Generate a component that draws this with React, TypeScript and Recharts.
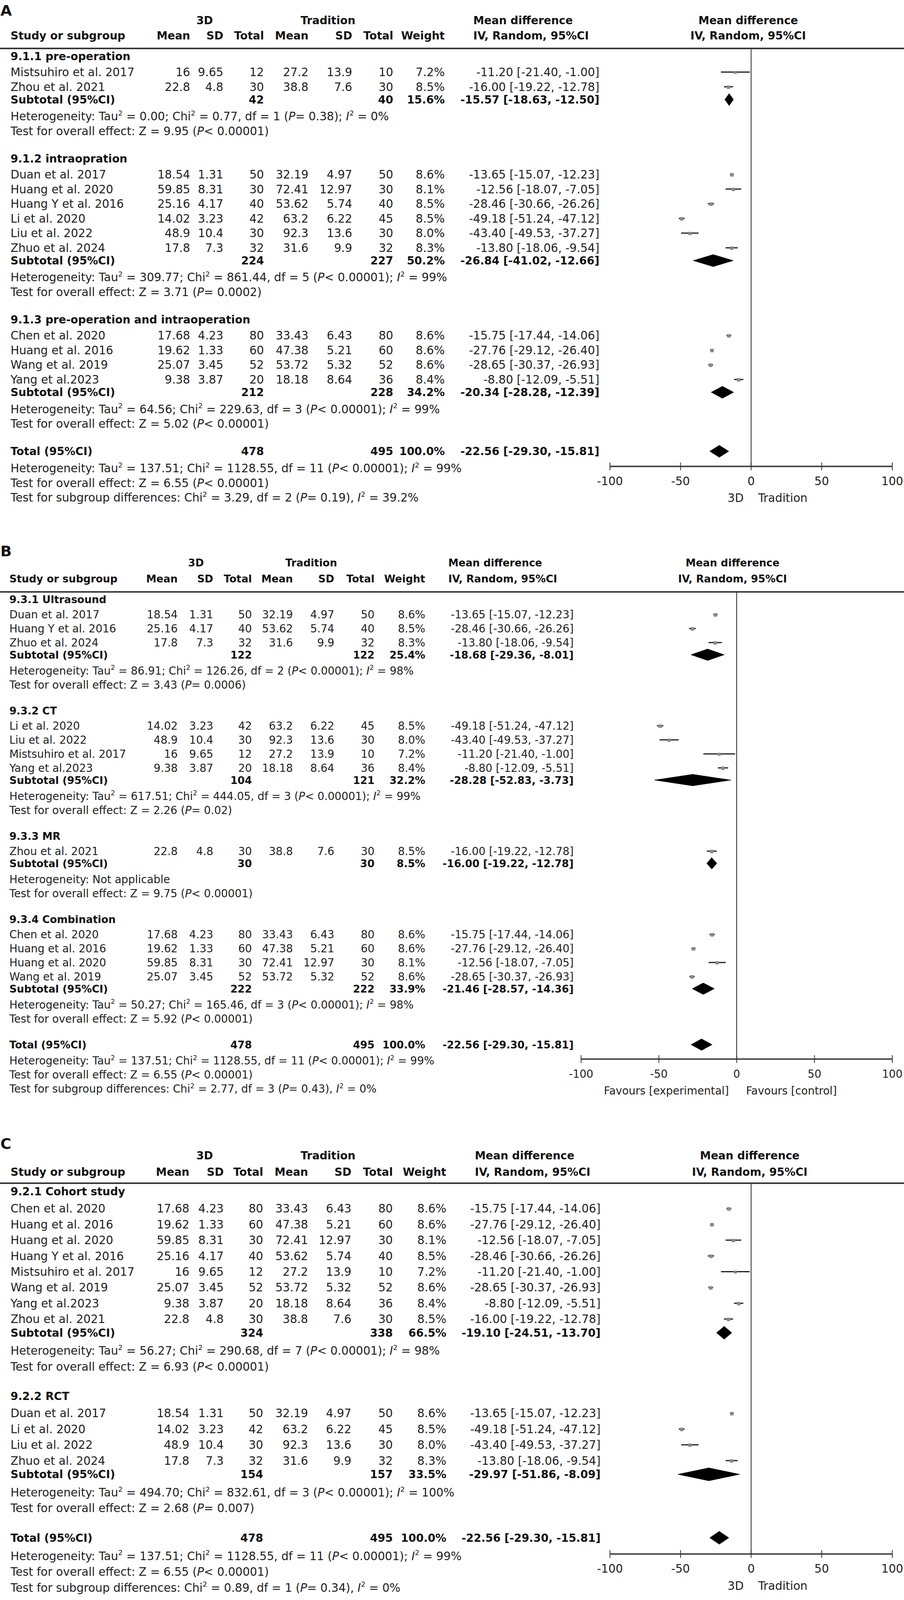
import React from 'react';
import { ScatterChart, Scatter, XAxis, YAxis, ReferenceLine } from 'recharts';

const FONT = "'DejaVu Sans', Verdana, sans-serif";
const W = 2315;
const H_REF = 4353;
// the photographed viewport is shorter than the reference; fit the whole figure vertically
const VS = 4090 / H_REF;

// ---------- study data ----------
const studyNames = [
  'Mistsuhiro et al. 2017', 'Zhou et al. 2021', 'Duan et al. 2017', 'Huang et al. 2020',
  'Huang Y et al. 2016', 'Li et al. 2020', 'Liu et al. 2022', 'Zhuo et al. 2024',
  'Chen et al. 2020', 'Huang et al. 2016', 'Wang et al. 2019', 'Yang et al.2023',
];
const mean3D = [16, 22.8, 18.54, 59.85, 25.16, 14.02, 48.9, 17.8, 17.68, 19.62, 25.07, 9.38];
const sd3D = [9.65, 4.8, 1.31, 8.31, 4.17, 3.23, 10.4, 7.3, 4.23, 1.33, 3.45, 3.87];
const total3D = [12, 30, 50, 30, 40, 42, 30, 32, 80, 60, 52, 20];
const meanTrad = [27.2, 38.8, 32.19, 72.41, 53.62, 63.2, 92.3, 31.6, 33.43, 47.38, 53.72, 18.18];
const sdTrad = [13.9, 7.6, 4.97, 12.97, 5.74, 6.22, 13.6, 9.9, 6.43, 5.21, 5.32, 8.64];
const totalTrad = [10, 30, 50, 30, 40, 45, 30, 32, 80, 60, 52, 36];
const weightPct = [7.2, 8.5, 8.6, 8.1, 8.5, 8.5, 8.0, 8.3, 8.6, 8.6, 8.6, 8.4];
const meanDiff = [-11.2, -16.0, -13.65, -12.56, -28.46, -49.18, -43.4, -13.8, -15.75, -27.76, -28.65, -8.8];
const ciLow = [-21.4, -19.22, -15.07, -18.07, -30.66, -51.24, -49.53, -18.06, -17.44, -29.12, -30.37, -12.09];
const ciHigh = [-1.0, -12.78, -12.23, -7.05, -26.26, -47.12, -37.27, -9.54, -14.06, -26.4, -26.93, -5.51];

const xTicks = [-100, -50, 0, 50, 100];

interface Subgroup {
  title: string; members: string[]; n3D: number; nTrad: number; weight: number;
  md: number; lo: number; hi: number; het: string; effect: string;
}

const subgroupsA: Subgroup[] = [
  { title: '9.1.1 pre-operation', members: ['Mistsuhiro et al. 2017', 'Zhou et al. 2021'],
    n3D: 42, nTrad: 40, weight: 15.6, md: -15.57, lo: -18.63, hi: -12.5,
    het: 'Heterogeneity: Tau^ = 0.00; Chi^ = 0.77, df = 1 (*P*= 0.38); *I*^ = 0%',
    effect: 'Test for overall effect: Z = 9.95 (*P*< 0.00001)' },
  { title: '9.1.2 intraopration', members: ['Duan et al. 2017', 'Huang et al. 2020', 'Huang Y et al. 2016', 'Li et al. 2020', 'Liu et al. 2022', 'Zhuo et al. 2024'],
    n3D: 224, nTrad: 227, weight: 50.2, md: -26.84, lo: -41.02, hi: -12.66,
    het: 'Heterogeneity: Tau^ = 309.77; Chi^ = 861.44, df = 5 (*P*< 0.00001); *I*^ = 99%',
    effect: 'Test for overall effect: Z = 3.71 (*P*= 0.0002)' },
  { title: '9.1.3 pre-operation and intraoperation', members: ['Chen et al. 2020', 'Huang et al. 2016', 'Wang et al. 2019', 'Yang et al.2023'],
    n3D: 212, nTrad: 228, weight: 34.2, md: -20.34, lo: -28.28, hi: -12.39,
    het: 'Heterogeneity: Tau^ = 64.56; Chi^ = 229.63, df = 3 (*P*< 0.00001); *I*^ = 99%',
    effect: 'Test for overall effect: Z = 5.02 (*P*< 0.00001)' },
];

const subgroupsB: Subgroup[] = [
  { title: '9.3.1 Ultrasound', members: ['Duan et al. 2017', 'Huang Y et al. 2016', 'Zhuo et al. 2024'],
    n3D: 122, nTrad: 122, weight: 25.4, md: -18.68, lo: -29.36, hi: -8.01,
    het: 'Heterogeneity: Tau^ = 86.91; Chi^ = 126.26, df = 2 (*P*< 0.00001); *I*^ = 98%',
    effect: 'Test for overall effect: Z = 3.43 (*P*= 0.0006)' },
  { title: '9.3.2 CT', members: ['Li et al. 2020', 'Liu et al. 2022', 'Mistsuhiro et al. 2017', 'Yang et al.2023'],
    n3D: 104, nTrad: 121, weight: 32.2, md: -28.28, lo: -52.83, hi: -3.73,
    het: 'Heterogeneity: Tau^ = 617.51; Chi^ = 444.05, df = 3 (*P*< 0.00001); *I*^ = 99%',
    effect: 'Test for overall effect: Z = 2.26 (*P*= 0.02)' },
  { title: '9.3.3 MR', members: ['Zhou et al. 2021'],
    n3D: 30, nTrad: 30, weight: 8.5, md: -16.0, lo: -19.22, hi: -12.78,
    het: 'Heterogeneity: Not applicable',
    effect: 'Test for overall effect: Z = 9.75 (*P*< 0.00001)' },
  { title: '9.3.4 Combination', members: ['Chen et al. 2020', 'Huang et al. 2016', 'Huang et al. 2020', 'Wang et al. 2019'],
    n3D: 222, nTrad: 222, weight: 33.9, md: -21.46, lo: -28.57, hi: -14.36,
    het: 'Heterogeneity: Tau^ = 50.27; Chi^ = 165.46, df = 3 (*P*< 0.00001); *I*^ = 98%',
    effect: 'Test for overall effect: Z = 5.92 (*P*< 0.00001)' },
];

const subgroupsC: Subgroup[] = [
  { title: '9.2.1 Cohort study', members: ['Chen et al. 2020', 'Huang et al. 2016', 'Huang et al. 2020', 'Huang Y et al. 2016', 'Mistsuhiro et al. 2017', 'Wang et al. 2019', 'Yang et al.2023', 'Zhou et al. 2021'],
    n3D: 324, nTrad: 338, weight: 66.5, md: -19.1, lo: -24.51, hi: -13.7,
    het: 'Heterogeneity: Tau^ = 56.27; Chi^ = 290.68, df = 7 (*P*< 0.00001); *I*^ = 98%',
    effect: 'Test for overall effect: Z = 6.93 (*P*< 0.00001)' },
  { title: '9.2.2 RCT', members: ['Duan et al. 2017', 'Li et al. 2020', 'Liu et al. 2022', 'Zhuo et al. 2024'],
    n3D: 154, nTrad: 157, weight: 33.5, md: -29.97, lo: -51.86, hi: -8.09,
    het: 'Heterogeneity: Tau^ = 494.70; Chi^ = 832.61, df = 3 (*P*< 0.00001); *I*^ = 100%',
    effect: 'Test for overall effect: Z = 2.68 (*P*= 0.007)' },
];

const overallN = [478, 495];
const overallEst = { weight: 100.0, md: -22.56, lo: -29.3, hi: -15.81 };
const overallHet = 'Heterogeneity: Tau^ = 137.51; Chi^ = 1128.55, df = 11 (*P*< 0.00001); *I*^ = 99%';
const overallEffect = 'Test for overall effect: Z = 6.55 (*P*< 0.00001)';
const subgroupDiffA = 'Test for subgroup differences: Chi^ = 3.29, df = 2 (*P*= 0.19), *I*^ = 39.2%';
const subgroupDiffB = 'Test for subgroup differences: Chi^ = 2.77, df = 3 (*P*= 0.43), *I*^ = 0%';
const subgroupDiffC = 'Test for subgroup differences: Chi^ = 0.89, df = 1 (*P*= 0.34), *I*^ = 0%';
const favoursAC = ['3D', 'Tradition'];
const favoursB = ['Favours [experimental]', 'Favours [control]'];
const headCols = ['Mean', 'SD', 'Total', 'Mean', 'SD', 'Total', 'Weight'];

// ---------- layout (vertical values in reference pixels, scaled by VS) ----------
interface Layout {
  top: number; height: number; ruleY: number; unit: number; gap: number;
  fs: number; fsB: number; nameX: number; cols: number[]; ciRight: number; ciHeadLeft: number;
  head3D: number; headTrad: number; plotHead: number; plotLeft: number; plotRight: number;
  head1: number; head2: number; letterOff: number; favGap: number[];
}

const layoutA: Layout = {
  top: 0, height: 1420, ruleY: 132, unit: 40, gap: 1.88, fs: 29.3, fsB: 28, nameX: 27,
  cols: [487, 572, 676, 790, 902, 1007, 1139], ciRight: 1535, ciHeadLeft: 1212,
  head3D: 524, headTrad: 840, plotHead: 1916, plotLeft: 1562, plotRight: 2285,
  head1: -77, head2: -35, letterOff: -104, favGap: [19, 18],
};
const layoutB: Layout = {
  top: 1420, height: 1620, ruleY: 1613, unit: 38.2, gap: 1.85, fs: 27.6, fsB: 26.4, nameX: 24,
  cols: [455, 546, 645, 750, 856, 959, 1089], ciRight: 1469, ciHeadLeft: 1148,
  head3D: 502, headTrad: 797, plotHead: 1876, plotLeft: 1488, plotRight: 2285,
  head1: -80, head2: -36, letterOff: -112, favGap: [20, 24],
};
const layoutC: Layout = {
  top: 3040, height: 1313, ruleY: 3224, unit: 43, gap: 1.88, fs: 29.3, fsB: 28, nameX: 27,
  cols: [485, 573, 674, 789, 900, 1006, 1143], ciRight: 1538, ciHeadLeft: 1216,
  head3D: 524, headTrad: 840, plotHead: 1920, plotLeft: 1562, plotRight: 2285,
  head1: -75, head2: -31, letterOff: -108, favGap: [19, 18],
};

interface Row { kind: string; pos: number; idx?: number; text?: string; g?: Subgroup; }

function buildRows(groups: Subgroup[], L: Layout, diff: string) {
  const u = L.unit;
  const rows: Row[] = [
    { kind: 'letter', pos: L.letterOff / u },
    { kind: 'head1', pos: L.head1 / u },
    { kind: 'head2', pos: L.head2 / u },
    { kind: 'rule', pos: 0 },
  ];
  let p = 0.53;
  groups.forEach((g, gi) => {
    if (gi > 0) p += L.gap;
    rows.push({ kind: 'group', pos: p, text: g.title });
    p += 1.08;
    g.members.forEach((name, k) => {
      if (k > 0) p += 1;
      rows.push({ kind: 'study', pos: p, idx: studyNames.indexOf(name) });
    });
    p += 0.87;
    rows.push({ kind: 'subtotal', pos: p, g });
    p += 1.14;
    rows.push({ kind: 'text', pos: p, text: g.het });
    p += 1.0;
    rows.push({ kind: 'text', pos: p, text: g.effect });
  });
  p += L.gap;
  const totalPos = p;
  rows.push({ kind: 'total', pos: p });
  p += 1.15;
  rows.push({ kind: 'text', pos: p, text: overallHet });
  p += 1.0;
  rows.push({ kind: 'text', pos: p, text: overallEffect });
  p += 1.0;
  rows.push({ kind: 'text', pos: p, text: diff });
  return { rows, totalPos, axisPos: totalPos + 1.03 };
}

function rich(text: string, fs: number) {
  const toks = text.split(/(\^|\*[A-Za-z]\*)/).filter((t) => t !== '');
  let shifted = false;
  const sh = fs * 0.42;
  return toks.map((t, i) => {
    if (t === '^') {
      shifted = true;
      return <tspan key={i} dy={-sh} fontSize={fs * 0.62}>2</tspan>;
    }
    const reset = shifted ? sh : undefined;
    shifted = false;
    if (t.startsWith('*')) return <tspan key={i} dy={reset} fontStyle="italic">{t.slice(1, -1)}</tspan>;
    return <tspan key={i} dy={reset}>{t}</tspan>;
  });
}

function Txt(props: { x: number; y: number; fs: number; bold?: boolean; anchor?: string; children: any }) {
  const { x, y, fs, bold, anchor, children } = props;
  return (
    <text x={x} y={y + fs * 0.36} fontFamily={FONT} fontSize={fs} fontWeight={bold ? 700 : 400}
      fill={bold ? '#111' : '#222'} textAnchor={(anchor || 'start') as any}>
      {children}
    </text>
  );
}

const ci = (md: number, lo: number, hi: number) => `${md.toFixed(2)} [${lo.toFixed(2)}, ${hi.toFixed(2)}]`;

function renderRow(row: Row, y: number, L: Layout, letter: string) {
  const { fs, fsB, cols } = L;
  switch (row.kind) {
    case 'letter':
      return <Txt x={1} y={y} fs={38} bold>{letter}</Txt>;
    case 'head1':
      return (
        <g>
          <Txt x={L.head3D} y={y} fs={fsB} bold anchor="middle">3D</Txt>
          <Txt x={L.headTrad} y={y} fs={fsB} bold anchor="middle">Tradition</Txt>
          <Txt x={L.ciHeadLeft} y={y} fs={fsB} bold>Mean difference</Txt>
          <Txt x={L.plotHead} y={y} fs={fsB} bold anchor="middle">Mean difference</Txt>
        </g>
      );
    case 'head2':
      return (
        <g>
          <Txt x={L.nameX} y={y} fs={fsB} bold>Study or subgroup</Txt>
          {headCols.map((h, i) => <Txt key={i} x={cols[i]} y={y} fs={fsB} bold anchor="end">{h}</Txt>)}
          <Txt x={L.ciHeadLeft} y={y} fs={fsB} bold>IV, Random, 95%CI</Txt>
          <Txt x={L.plotHead} y={y} fs={fsB} bold anchor="middle">IV, Random, 95%CI</Txt>
        </g>
      );
    case 'rule':
      return <line x1={0} x2={W} y1={y} y2={y} stroke="#363636" strokeWidth={4} />;
    case 'group':
      return <Txt x={L.nameX} y={y} fs={fsB} bold>{row.text}</Txt>;
    case 'study': {
      const i = row.idx as number;
      const vals = [mean3D[i], sd3D[i], total3D[i], meanTrad[i], sdTrad[i], totalTrad[i]].map(String);
      vals.push(`${weightPct[i].toFixed(1)}%`);
      return (
        <g>
          <Txt x={L.nameX} y={y} fs={fs}>{studyNames[i]}</Txt>
          {vals.map((v, k) => <Txt key={k} x={cols[k]} y={y} fs={fs} anchor="end">{v}</Txt>)}
          <Txt x={L.ciRight} y={y} fs={fs} anchor="end">{ci(meanDiff[i], ciLow[i], ciHigh[i])}</Txt>
        </g>
      );
    }
    case 'subtotal': {
      const g = row.g as Subgroup;
      return (
        <g>
          <Txt x={L.nameX} y={y} fs={fsB} bold>Subtotal (95%CI)</Txt>
          <Txt x={cols[2]} y={y} fs={fsB} bold anchor="end">{String(g.n3D)}</Txt>
          <Txt x={cols[5]} y={y} fs={fsB} bold anchor="end">{String(g.nTrad)}</Txt>
          <Txt x={cols[6]} y={y} fs={fsB} bold anchor="end">{`${g.weight.toFixed(1)}%`}</Txt>
          <Txt x={L.ciRight} y={y} fs={fsB} bold anchor="end">{ci(g.md, g.lo, g.hi)}</Txt>
        </g>
      );
    }
    case 'total':
      return (
        <g>
          <Txt x={L.nameX} y={y} fs={fsB} bold>Total (95%CI)</Txt>
          <Txt x={cols[2]} y={y} fs={fsB} bold anchor="end">{String(overallN[0])}</Txt>
          <Txt x={cols[5]} y={y} fs={fsB} bold anchor="end">{String(overallN[1])}</Txt>
          <Txt x={cols[6]} y={y} fs={fsB} bold anchor="end">{`${overallEst.weight.toFixed(1)}%`}</Txt>
          <Txt x={L.ciRight} y={y} fs={fsB} bold anchor="end">{ci(overallEst.md, overallEst.lo, overallEst.hi)}</Txt>
        </g>
      );
    case 'text':
      return <Txt x={L.nameX} y={y} fs={fs}>{rich(row.text || '', fs)}</Txt>;
    default:
      return <g />;
  }
}

const emptyShape = () => <g />;

function diamondLine(props: any) {
  const pts = props && props.points;
  if (!pts || !pts.length) return <g />;
  return <polygon points={pts.map((p: any) => `${p.x},${p.y}`).join(' ')} fill="#000" stroke="#000" strokeWidth={1} />;
}

function ForestPanel(props: { L: Layout; groups: Subgroup[]; diff: string; favours: string[]; letter: string }) {
  const { L, groups, diff, favours, letter } = props;
  const { rows, axisPos } = buildRows(groups, L, diff);
  const u = L.unit * VS;
  const top = L.top * VS;
  const height = L.height * VS;
  const off = (L.ruleY - L.top) * VS;
  const domain = [-off / u, (height - off) / u];
  const half = 0.41;

  const studyRows = rows.filter((r) => r.kind === 'study');
  const studyPts = studyRows.map((r) => ({ x: meanDiff[r.idx as number], y: r.pos, w: weightPct[r.idx as number] }));
  const diamonds = rows
    .filter((r) => r.kind === 'subtotal' || r.kind === 'total')
    .map((r) => {
      const e = r.kind === 'total' ? overallEst : (r.g as Subgroup);
      return [
        { x: e.lo, y: r.pos }, { x: e.md, y: r.pos - half }, { x: e.hi, y: r.pos }, { x: e.md, y: r.pos + half },
      ];
    });
  const tickPts = xTicks.map((v) => ({ x: v, y: axisPos, label: String(v) }));
  const favPts = [{ x: 0, y: axisPos + 86 / L.unit }];
  const labelDrop = 40 * VS;

  const rowTick = (tp: any) => {
    const v = tp && tp.payload ? tp.payload.value : NaN;
    const row = rows.find((r) => Math.abs(r.pos - v) < 1e-7);
    if (!row) return <g />;
    return <g>{renderRow(row, tp.y, L, letter)}</g>;
  };

  const squareShape = (sp: any) => {
    const w = sp.payload ? sp.payload.w : 8;
    const s = w * 1.05;
    return <rect x={sp.cx - s / 2} y={sp.cy - s / 2 + 1} width={s} height={s} fill="#8a8a8a" />;
  };

  const tickShape = (sp: any) => {
    const label = sp.payload ? sp.payload.label : '';
    return (
      <g>
        <line x1={sp.cx} x2={sp.cx} y1={sp.cy - 10} y2={sp.cy + 10} stroke="#333" strokeWidth={2} />
        <text x={sp.cx} y={sp.cy + labelDrop + L.fs * 0.36} textAnchor="middle" fontFamily={FONT} fontSize={L.fs} fill="#222">{label}</text>
      </g>
    );
  };

  const favShape = (sp: any) => (
    <g>
      <text x={sp.cx - L.favGap[0]} y={sp.cy + L.fs * 0.36} textAnchor="end" fontFamily={FONT} fontSize={L.fs} fill="#222">{favours[0]}</text>
      <text x={sp.cx + L.favGap[1]} y={sp.cy + L.fs * 0.36} textAnchor="start" fontFamily={FONT} fontSize={L.fs} fill="#222">{favours[1]}</text>
    </g>
  );

  return (
    <div style={{ position: 'absolute', left: 0, top, width: W, height }}>
      <ScatterChart width={W} height={height} margin={{ top: 0, right: W - L.plotRight, bottom: 0, left: 0 }}>
        <XAxis type="number" dataKey="x" domain={[-100, 100]} hide />
        <YAxis type="number" dataKey="y" domain={domain} reversed width={L.plotLeft}
          ticks={rows.map((r) => r.pos)} interval={0} axisLine={false} tickLine={false} tick={rowTick} />
        <ReferenceLine segment={[{ x: 0, y: 0 }, { x: 0, y: axisPos }]} stroke="#222" strokeWidth={2} />
        <ReferenceLine segment={[{ x: -100, y: axisPos }, { x: 100, y: axisPos }]} stroke="#4a4a4a" strokeWidth={4} />
        {studyRows.map((r, k) => (
          <ReferenceLine key={`ci${k}`} segment={[{ x: ciLow[r.idx as number], y: r.pos }, { x: ciHigh[r.idx as number], y: r.pos }]}
            stroke="#1e1e1e" strokeWidth={3} />
        ))}
        <Scatter data={studyPts} shape={squareShape} isAnimationActive={false} />
        {diamonds.map((d, k) => (
          <Scatter key={`dm${k}`} data={d} line={diamondLine} lineType="joint" shape={emptyShape} fill="#000" isAnimationActive={false} />
        ))}
        <Scatter data={tickPts} shape={tickShape} isAnimationActive={false} />
        <Scatter data={favPts} shape={favShape} isAnimationActive={false} />
      </ScatterChart>
    </div>
  );
}

export default function App() {
  return (
    <div style={{ position: 'absolute', left: 0, top: 0, width: W, height: 4090, background: '#fff', overflow: 'hidden' }}>
      <ForestPanel L={layoutA} groups={subgroupsA} diff={subgroupDiffA} favours={favoursAC} letter="A" />
      <ForestPanel L={layoutB} groups={subgroupsB} diff={subgroupDiffB} favours={favoursB} letter="B" />
      <ForestPanel L={layoutC} groups={subgroupsC} diff={subgroupDiffC} favours={favoursAC} letter="C" />
    </div>
  );
}
